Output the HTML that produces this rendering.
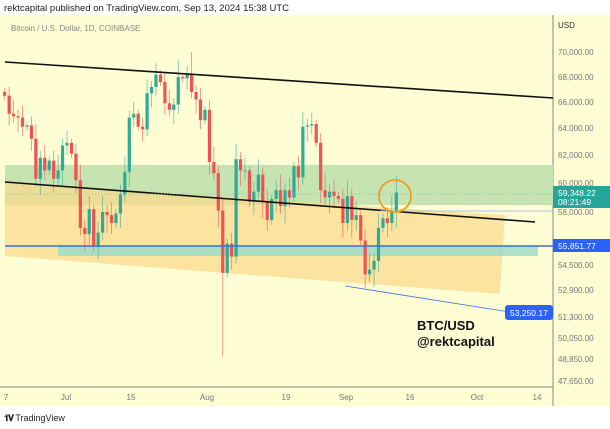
<!DOCTYPE html>
<html><head><meta charset="utf-8"><style>
body{margin:0;width:610px;height:429px;background:#fff;font-family:"Liberation Sans",sans-serif;overflow:hidden;position:relative}
.t{position:absolute;font-size:9px;color:#333}
</style></head><body>
<div class="t" style="left:4px;top:3px;font-size:9.5px;color:#222">rektcapital published on TradingView.com, Sep 13, 2024 15:38 UTC</div>
<svg id="s" width="610" height="429" style="position:absolute;left:0;top:0"></svg>
<div class="t" style="left:4px;top:413px;font-size:9px;color:#222"><b style="letter-spacing:-1px">𝟏𝐕</b> TradingView</div>
<script>
const NS="http://www.w3.org/2000/svg",s=document.getElementById('s');
function el(t,a,txt){const e=document.createElementNS(NS,t);for(const k in a)e.setAttribute(k,a[k]);if(txt!=null)e.textContent=txt;s.appendChild(e);return e;}
const L=[[70000,52],[68000,77],[66000,102],[64000,128],[62000,155],[60000,183],[58000,212],[55851,246],[54500,265],[52900,290],[51300,317],[50050,338],[48850,359],[47650,381]];
function Y(p){for(let i=0;i<L.length-1;i++){const[a,ya]=L[i],[b,yb]=L[i+1];if(p<=a&&p>=b)return ya+(a-p)/(a-b)*(yb-ya);}return p>70000?52-(p-70000)/80:381;}
el('rect',{x:0,y:15,width:553,height:372,fill:'#fefdd4'});
el('rect',{x:553,y:15,width:57,height:391,fill:'#fefdd4'});
el('rect',{x:0,y:387,width:553,height:19,fill:'#fefdd4'});
el('line',{x1:553,y1:15,x2:553,y2:406,stroke:'#888','stroke-width':1});
el('line',{x1:0,y1:387,x2:553,y2:387,stroke:'#888','stroke-width':1});
el('rect',{x:5,y:165,width:548,height:40,fill:'#c5e4b2'});
el('polygon',{points:'5,183 505,215 500,294 5,256',fill:'#fbd98a',opacity:0.7});
el('rect',{x:58,y:246,width:480,height:10,fill:'#9fdcc5',opacity:0.85});
const d0=-14;const C=[66500,65100,64900,64800,64100,64200,63200,60300,61800,60900,61600,60300,60900,62700,62900,62100,60200,57000,56600,58200,55800,56700,58000,57800,57300,57900,59200,60800,64800,65100,64100,63900,66700,67200,68200,67600,65900,65400,65800,68000,67900,68200,66800,66200,64600,65400,61500,60700,58100,54000,56000,55100,61700,60900,60900,58700,59400,60600,58700,57500,58900,59500,58400,59500,59000,61200,60400,64100,64200,64300,62900,59500,59000,59400,59100,58900,57300,59100,57500,57800,56200,53900,54200,54800,57000,57600,57300,58100,59348];
let prev=66800;
C.forEach((c,i)=>{const d=d0+i,x=67+4.45*d;const o=prev;prev=c;
let hi=Math.max(o,c)+300+((i*37)%5)*200,lo=Math.min(o,c)-300-((i*53)%5)*200;
if(d==35)lo=49000;if(d==81)lo=52600;if(i==C.length-1)hi=60500;if(d==28)hi=70000;if(d==25)hi=69400;
const col=c>=o?'#2eab97':'#ef5350';
el('line',{x1:x,y1:Y(hi),x2:x,y2:Y(lo),stroke:col,'stroke-width':0.8,opacity:0.7});
const y1=Y(Math.max(o,c)),y2=Y(Math.min(o,c));
el('rect',{x:x-1.6,y:y1,width:3.2,height:Math.max(1,y2-y1),fill:col});});
el('line',{x1:5,y1:62,x2:553,y2:98,stroke:'#111','stroke-width':1.6});
el('line',{x1:5,y1:182,x2:535,y2:222,stroke:'#111','stroke-width':1.6});
el('line',{x1:5,y1:246,x2:553,y2:246,stroke:'#3b6fe0','stroke-width':1.5});
el('line',{x1:380,y1:211,x2:553,y2:211,stroke:'#aac4ee','stroke-width':1});
el('line',{x1:5,y1:194,x2:553,y2:194,stroke:'#7cc49a','stroke-width':0.8,'stroke-dasharray':'1,2'});
el('line',{x1:345,y1:286,x2:510,y2:312,stroke:'#3b6fe0','stroke-width':0.8});
el('circle',{cx:395,cy:196,r:16,fill:'none',stroke:'#f39c1e','stroke-width':1.8});
el('text',{x:11,y:31,'font-size':8,fill:'#888'},'Bitcoin / U.S. Dollar, 1D, COINBASE');
el('text',{x:558,y:28,'font-size':8,fill:'#333'},'USD');
[[70000,52],[68000,77],[66000,102],[64000,128],[62000,155],[60000,183],[58000,212],[54500,265],[52900,290],[51300,317],[50050,338],[48850,359],[47650,381]].forEach(([p,y])=>el('text',{x:558,y:y+3,'font-size':8,fill:'#777'},p.toLocaleString('en-US')+'.00'));
el('rect',{x:553,y:186,width:57,height:22,fill:'#26a69a'});
el('text',{x:558,y:196,'font-size':8.5,fill:'#fff'},'59,348.22');
el('text',{x:558,y:205,'font-size':8.5,fill:'#fff'},'08:21:49');
el('rect',{x:553,y:239,width:57,height:13,fill:'#2962ff'});
el('text',{x:558,y:249,'font-size':8.5,fill:'#fff'},'55,851.77');
el('rect',{x:505,y:305,width:48,height:15,rx:3,fill:'#2962ff'});
el('text',{x:510,y:316,'font-size':8.5,fill:'#fff'},'53,250.17');
[['7',6],['Jul',66],['15',131],['Aug',207],['19',286],['Sep',346],['16',410],['Oct',477],['14',537]].forEach(([t,x])=>el('text',{x:x,y:400,'font-size':8,fill:'#777','text-anchor':'middle'},t));
el('text',{x:417,y:330,'font-size':13,'font-weight':'bold',fill:'#111'},'BTC/USD');
el('text',{x:417,y:346,'font-size':13,'font-weight':'bold',fill:'#111'},'@rektcapital');
</script>
</body></html>
